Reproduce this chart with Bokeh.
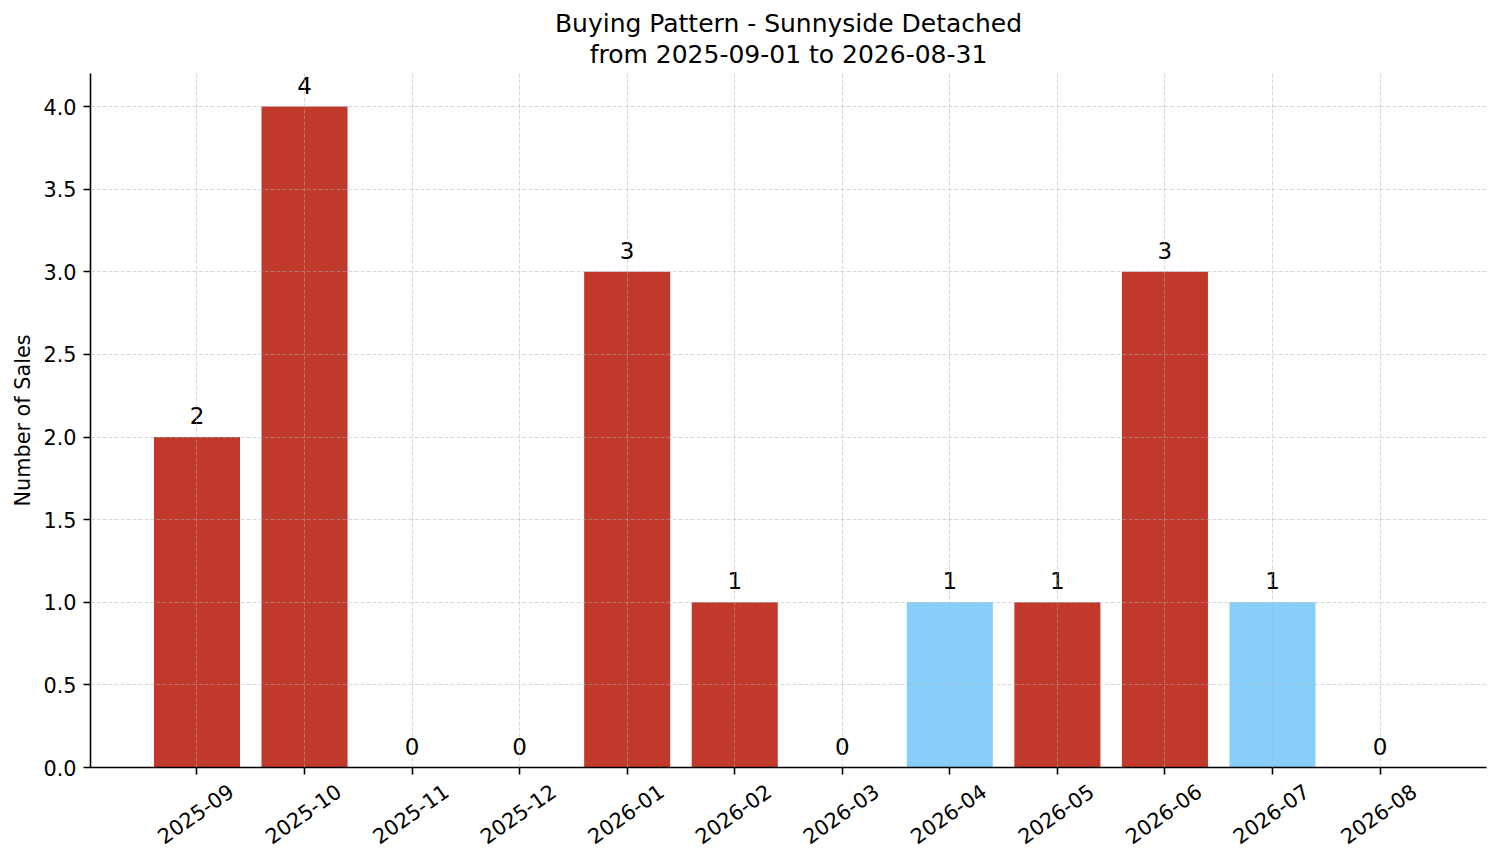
import math

from bokeh.core.properties import value
from bokeh.embed import file_html
from bokeh.models import (ColumnDataSource, CustomJSTickFormatter, FixedTicker, LabelSet,
                          LinearAxis, NumeralTickFormatter, Range1d, Title)
from bokeh.plotting import figure
from bokeh.resources import INLINE

months = ['2025-09', '2025-10', '2025-11', '2025-12', '2026-01', '2026-02',
          '2026-03', '2026-04', '2026-05', '2026-06', '2026-07', '2026-08']
sales = [2, 4, 0, 0, 3, 1, 0, 1, 1, 3, 1, 0]
# which bars are drawn in the light colour
highlight = [False, False, False, False, False, False,
             False, True, False, False, True, False]
y_ticks = [0.0, 0.5, 1.0, 1.5, 2.0, 2.5, 3.0, 3.5, 4.0]

title_line1 = "Buying Pattern - Sunnyside Detached"
title_line2 = "from 2025-09-01 to 2026-08-31"
FONT = "DejaVu Sans"

x = list(range(len(months)))
colors = ["#87cefa" if h else "#c0392b" for h in highlight]

source = ColumnDataSource(dict(
    x=x,
    month=months,
    sales=sales,
    label=[str(s) for s in sales],
    color=colors,
))

# matplotlib-like padding around the bars
x_pad = 0.4 + 0.05 * (len(months) - 1 + 0.8)
p = figure(width=1500, height=862,
           x_range=Range1d(-x_pad, len(months) - 1 + x_pad),
           y_range=Range1d(0, max(sales) * 1.05),
           output_backend="svg", toolbar_location=None,
           min_border_left=90, min_border_right=14,
           min_border_top=73, min_border_bottom=95)

# two centred title lines (first added sits closest to the plot)
for txt, gap in ((title_line2, 10), (title_line1, -10)):
    p.add_layout(Title(text=txt, align="center", text_font=FONT,
                       text_font_size="25px", text_font_style="normal",
                       text_color="black", standoff=gap), "above")

p.outline_line_color = None
p.background_fill_color = "white"

p.vbar(x="x", top="sales", width=0.8, color="color", line_color=None, source=source)

# value labels on top of the bars
p.add_layout(LabelSet(x="x", y="sales", text="label", source=source,
                      y_offset=13, text_align="center", text_baseline="alphabetic",
                      text_font=value(FONT), text_font_size="23px", text_color="black"))

xaxis = p.xaxis[0]
yaxis = p.yaxis[0]
for ax in (xaxis, yaxis):
    ax.axis_line_width = 1.6
    ax.axis_line_color = "black"
    ax.major_tick_line_width = 1.6
    ax.major_tick_line_color = "black"
    ax.major_tick_in = 0
    ax.major_tick_out = 7
    ax.minor_tick_line_color = None
    ax.major_label_text_font = FONT
    ax.major_label_text_font_size = "20.8px"
    ax.major_label_text_color = "black"
    ax.major_label_standoff = 7

# main x axis: tick marks only
xaxis.ticker = FixedTicker(ticks=x)
xaxis.formatter = CustomJSTickFormatter(code="return ''")
xaxis.major_label_standoff = 0

# second axis only for the rotated month names, shifted so that each
# label ends up centred under its tick (bokeh right-aligns rotated labels)
shift = 0.316
month_axis = LinearAxis(
    ticker=FixedTicker(ticks=[i + shift for i in x]),
    formatter=CustomJSTickFormatter(args=dict(months=months, shift=shift),
                                    code="return months[Math.round(tick - shift)]"),
    axis_line_color=None, major_tick_line_color=None, minor_tick_line_color=None,
    major_tick_in=0, major_tick_out=0, major_label_standoff=14,
    major_label_orientation=math.radians(35),
    major_label_text_font=FONT, major_label_text_font_size="20.8px",
    major_label_text_color="black")
p.add_layout(month_axis, "below")

yaxis.ticker = FixedTicker(ticks=y_ticks)
yaxis.formatter = NumeralTickFormatter(format="0.0")
yaxis.axis_label = "Number of Sales"
yaxis.axis_label_text_font = FONT
yaxis.axis_label_text_font_size = "20.8px"
yaxis.axis_label_text_font_style = "normal"
yaxis.axis_label_text_color = "black"
yaxis.axis_label_standoff = 5

for g in (p.xgrid[0], p.ygrid[0]):
    g.grid_line_color = "#b0b0b0"
    g.grid_line_alpha = 0.5
    g.grid_line_dash = "4 2"
    g.grid_line_width = 1
    g.level = "overlay"

open("out.html", "w").write(file_html(p, INLINE))
